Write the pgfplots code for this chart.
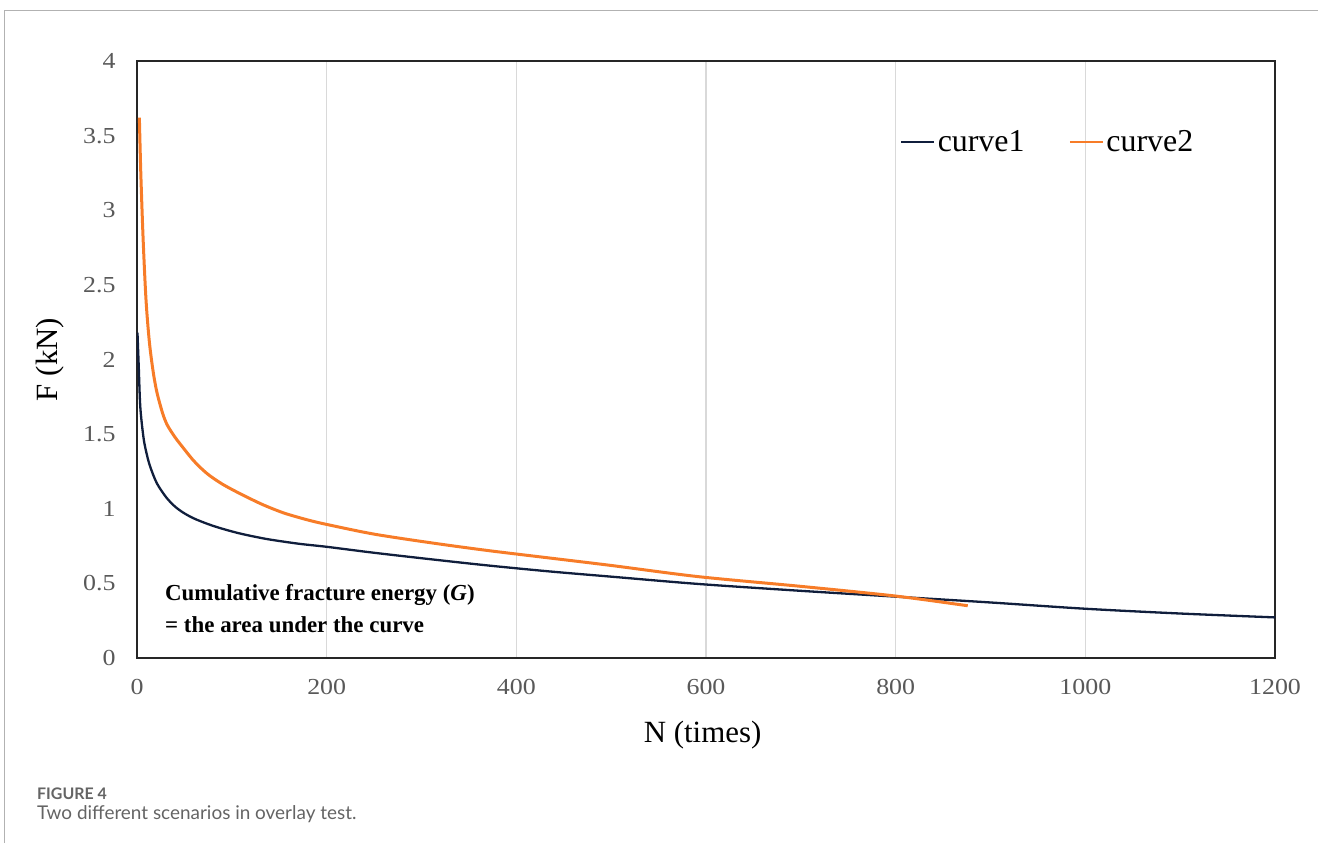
\documentclass[border=0pt]{standalone}
\usepackage{fontspec}
\setmainfont{Liberation Serif}
\newfontfamily\tickfont[FakeStretch=1.13]{Liberation Serif}
\newfontfamily\capfont{Lato}
\usepackage{pgfplots}
\pgfplotsset{compat=1.18}
\usepackage{pgfplotstable}
\definecolor{navy}{RGB}{16,30,60}
\definecolor{orng}{RGB}{247,124,40}
\definecolor{tickgray}{RGB}{89,89,89}
\definecolor{gridgray}{RGB}{217,217,217}
\definecolor{capgray}{RGB}{100,100,100}

\pgfplotstableread{
N F
0.5 2.18
1.8 1.96
3.5 1.68
7 1.47
10.5 1.36
14 1.28
21 1.17
31 1.075
40 1.015
49 0.973
60 0.935
75 0.897
90 0.866
110 0.832
137 0.797
170 0.766
200 0.745
250 0.705
312 0.66
370 0.62
435 0.58
500 0.545
592 0.496
700 0.45
800 0.411
900 0.372
1000 0.33
1100 0.298
1200 0.272
}\curveone

\pgfplotstableread{
N F
2.5 3.62
4 3.25
6.5 2.80
9.5 2.40
13 2.12
17 1.92
21 1.78
27 1.64
32 1.56
40 1.48
46 1.43
60 1.32
74 1.235
90 1.165
109 1.10
130 1.035
145 0.995
158 0.965
180 0.925
200 0.895
250 0.83
312 0.77
370 0.72
435 0.67
500 0.62
592 0.545
700 0.48
800 0.415
876 0.35
}\curvetwo

\begin{document}
\begin{tikzpicture}[x=1bp,y=1bp]
\useasboundingbox (0,0) rectangle (1318,843);
\draw[color=black!30, line width=1.2bp] (4.5,0) -- (4.5,832.5) -- (1318,832.5);
\node[anchor=north west, inner sep=0, text=capgray, font=\capfont\bfseries\fontsize{16}{18}\selectfont] at (37,55) {FIGURE 4};
\node[anchor=north west, inner sep=0, text=capgray, font=\capfont\fontsize{19}{21}\selectfont] at (37,38) {Two different scenarios in overlay test.};
\begin{axis}[
  at={(137bp,185bp)}, anchor=south west,
  width=1138bp, height=597bp, scale only axis,
  xmin=0, xmax=1200, ymin=0, ymax=4,
  xtick={0,200,...,1200},
  ytick={0,0.5,...,4},
  /pgf/number format/1000 sep={},
  /pgf/number format/assume math mode=true,
  tick style={draw=none},
  axis line style={draw=black!85, line width=1.6bp},
  xmajorgrids, grid style={gridgray, line width=1.2bp},
  tick label style={font=\tickfont\fontsize{23}{23}\selectfont, text=tickgray},
  xticklabel style={yshift=-18bp},
  yticklabel style={xshift=-18bp},
  xlabel={N (times)},
  ylabel={F (kN)},
  label style={font=\fontsize{31}{31}\selectfont},
  xlabel style={at={(axis description cs:0.497,-0.129)}, anchor=center},
  ylabel style={at={(axis description cs:-0.0764,0.5)}, anchor=center, rotate=0},
  legend columns=2,
  legend style={at={(axis description cs:0.6705,0.864)}, anchor=west, draw=none, fill=none,
    font=\fontsize{32}{32}\selectfont, inner sep=0pt,
    /tikz/every even column/.append style={column sep=42bp},
    nodes={inner sep=2.5bp}},
  legend image code/.code={\draw[#1, line width=2bp] (0bp,0bp) -- (33bp,0bp);},
]
\addplot[navy, line width=2.3bp, smooth, tension=0.5] table[x=N,y=F] {\curveone};
\addlegendentry{curve1}
\addplot[orng, line width=3bp, smooth, tension=0.5] table[x=N,y=F] {\curvetwo};
\addlegendentry{curve2}
\node[anchor=north west, align=left, inner sep=0, font=\bfseries\fontsize{23}{32}\selectfont] at (axis description cs:0.0246,0.124)
  {Cumulative fracture energy (\textit{G})\\= the area under the curve};
\end{axis}
\end{tikzpicture}
\end{document}
